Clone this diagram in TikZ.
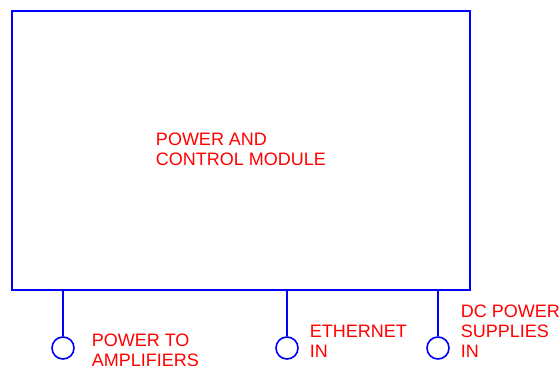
\documentclass[tikz,border=0pt]{standalone}
\usepackage{fontspec}
\setmainfont{Liberation Sans}
\usetikzlibrary{positioning}

\begin{document}
\begin{tikzpicture}[x=1pt,y=-1pt,line width=1.6pt,
    wire/.style={draw={rgb,255:red,0;green,0;blue,255}},
    port/.style={wire,circle,minimum size=22pt,inner sep=0pt},
    lbl/.style={text=red,font=\fontsize{18}{20}\selectfont,align=left,inner sep=0pt,anchor=base west}]
  \useasboundingbox (0,0) rectangle (559,366);
  \node[wire,minimum width=458pt,minimum height=279pt,inner sep=0pt,
        text=red,font=\fontsize{18}{20}\selectfont,align=left] (module) at (241,150.5)
        {POWER AND\\CONTROL MODULE\rule[-3pt]{0pt}{0pt}};
  \node[port] (amp) at (63,348) {};
  \node[port] (eth) at (287,348) {};
  \node[port] (dc) at (438,348) {};
  \draw[wire] (amp.north) -- (amp.north |- module.south);
  \draw[wire] (eth.north) -- (eth.north |- module.south);
  \draw[wire] (dc.north) -- (dc.north |- module.south);
  \node[lbl] (ampl) at (91,366) {POWER TO\\AMPLIFIERS};
  \node[lbl] (ethl) at (309,357) {ETHERNET\\IN};
  \node[lbl] (dcl) at (460,357) {DC POWER\\SUPPLIES\\IN};
\end{tikzpicture}
\end{document}
